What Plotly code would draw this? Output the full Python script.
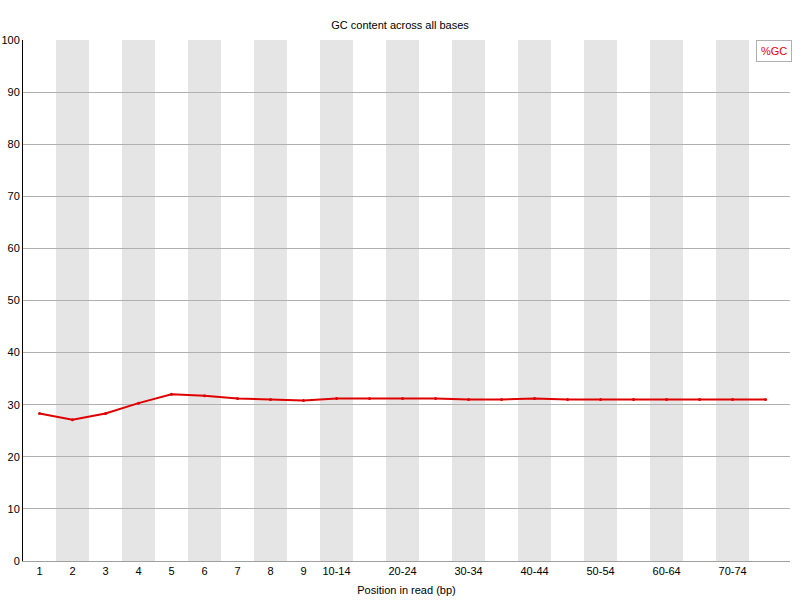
import plotly.graph_objects as go

# positions along the read (bins after 9 are 5 bp wide)
positions = ["1", "2", "3", "4", "5", "6", "7", "8", "9",
             "10-14", "15-19", "20-24", "25-29", "30-34", "35-39",
             "40-44", "45-49", "50-54", "55-59", "60-64", "65-69",
             "70-74", "75-76"]
gc_percent = [28.3, 27.1, 28.3, 30.3, 32.0, 31.7, 31.2, 31.0, 30.8,
              31.2, 31.2, 31.2, 31.2, 31.0, 31.0,
              31.2, 31.0, 31.0, 31.0, 31.0, 31.0,
              31.0, 31.0]
# only every other bin gets a label once the bins are grouped
shown_ticks = ["1", "2", "3", "4", "5", "6", "7", "8", "9",
               "10-14", "20-24", "30-34", "40-44", "50-54", "60-64", "70-74"]

fig = go.Figure()

fig.add_trace(go.Scatter(
    x=positions,
    y=gc_percent,
    mode="lines+markers",
    name="%GC",
    line=dict(color="#e00000", width=2),
    marker=dict(color="#e00000", size=3),
    hoverinfo="x+y",
))

# alternating grey background stripes, drawn under the gridlines
shapes = []
for i, p in enumerate(positions):
    if i % 2 == 1:
        shapes.append(dict(
            type="rect", xref="x", yref="paper",
            x0=i - 0.5, x1=i + 0.5, y0=0, y1=1,
            fillcolor="#e5e5e5", line=dict(width=0), layer="below",
        ))

fig.update_layout(
    width=800,
    height=600,
    margin=dict(l=23, r=10, t=40, b=39, autoexpand=False),
    paper_bgcolor="white",
    plot_bgcolor="white",
    font=dict(family="Liberation Sans, Arial, sans-serif", size=11, color="black"),
    title=dict(text="GC content across all bases", x=0.5, xanchor="center",
               y=1 - 25 / 600, yanchor="middle", yref="container",
               font=dict(size=11)),
    showlegend=False,
    shapes=shapes,
    annotations=[dict(
        text="%GC", xref="paper", yref="paper", x=1.002, y=1,
        xanchor="right", yanchor="top", showarrow=False,
        font=dict(color="#e00000", size=11),
        bgcolor="white", bordercolor="#b0b0b0", borderwidth=1, borderpad=4,
    )],
)

fig.update_xaxes(
    type="category",
    categoryorder="array",
    categoryarray=positions,
    range=[-0.5, 22.74],
    tickmode="array",
    tickvals=shown_ticks,
    ticktext=shown_ticks,
    showgrid=False,
    showline=True,
    linecolor="#a0a0a0",
    linewidth=1,
    ticks="",
    automargin=False,
    title=dict(text="Position in read (bp)", standoff=10, font=dict(size=11)),
)

fig.update_yaxes(
    range=[0, 100],
    dtick=10,
    showgrid=True,
    gridcolor="#b0b0b0",
    gridwidth=1,
    zeroline=False,
    showline=True,
    linecolor="black",
    linewidth=1,
    ticks="",
    automargin=False,
)

# drop the page's default body margin so the 800x600 figure fills the window
fig.write_html("out.html", config={"displayModeBar": False},
               post_script="document.body.style.margin = '0';")
